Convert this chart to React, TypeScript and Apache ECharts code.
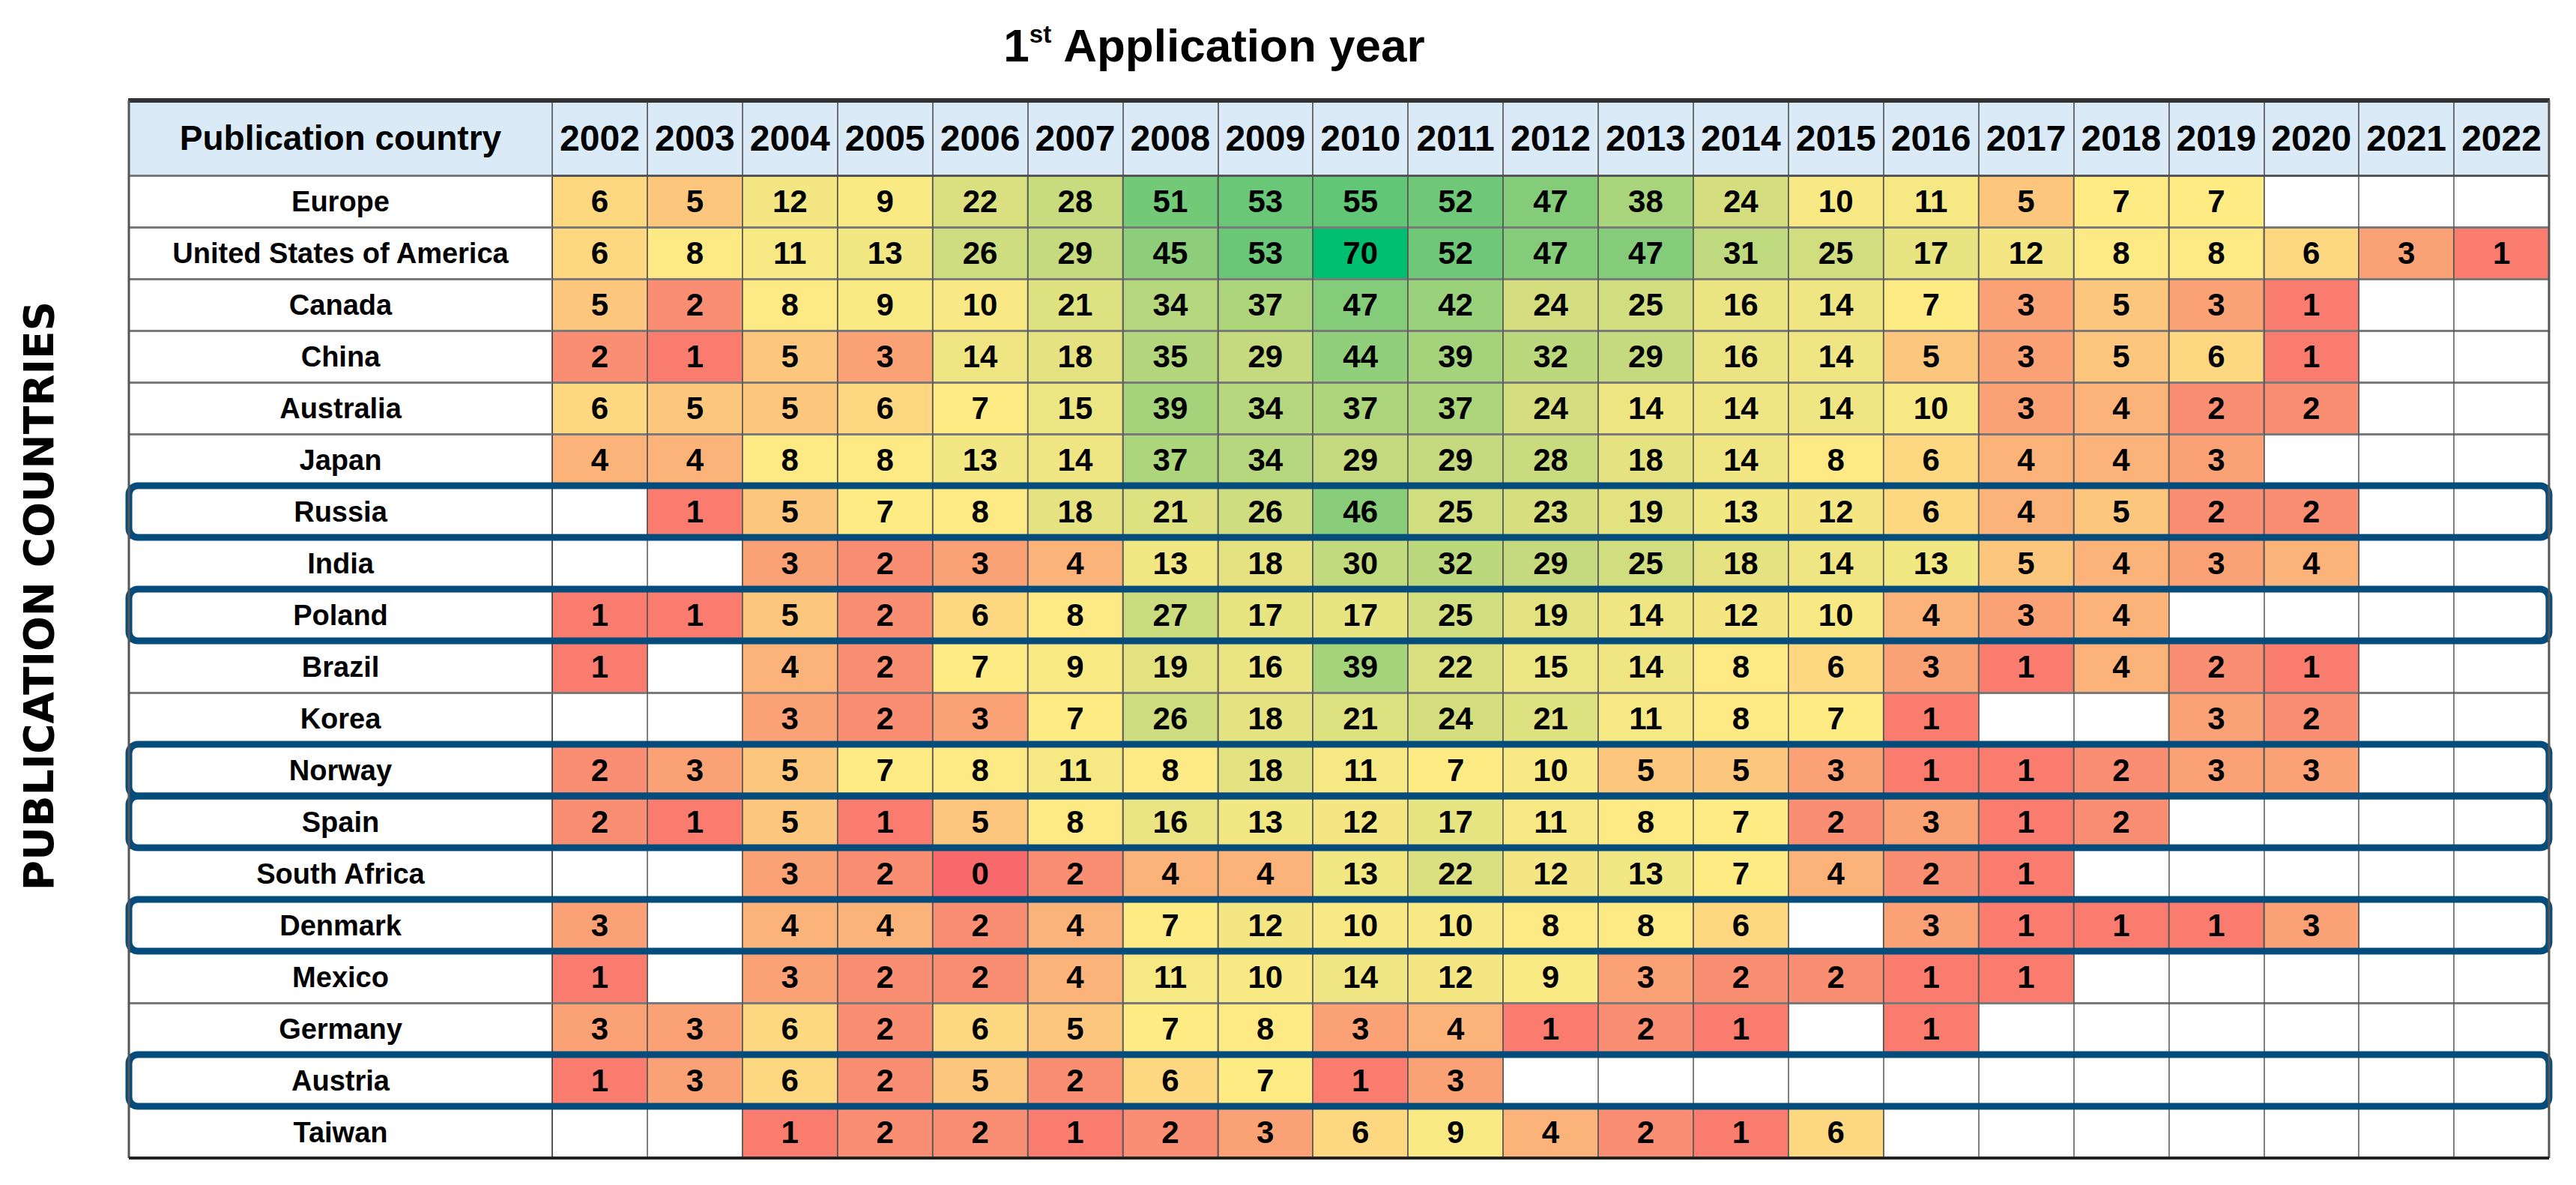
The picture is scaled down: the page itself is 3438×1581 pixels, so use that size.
import React, { useEffect, useRef } from "react";
import * as echarts from "echarts";

// ---------- data ----------
const YEARS = [
  "2002", "2003", "2004", "2005", "2006", "2007", "2008", "2009", "2010", "2011", "2012",
  "2013", "2014", "2015", "2016", "2017", "2018", "2019", "2020", "2021", "2022",
];

const COUNTRIES = [
  "Europe", "United States of America", "Canada", "China", "Australia", "Japan", "Russia",
  "India", "Poland", "Brazil", "Korea", "Norway", "Spain", "South Africa", "Denmark",
  "Mexico", "Germany", "Austria", "Taiwan",
];

const _ = null;
const EUROPE = [6, 5, 12, 9, 22, 28, 51, 53, 55, 52, 47, 38, 24, 10, 11, 5, 7, 7, _, _, _];
const USA = [6, 8, 11, 13, 26, 29, 45, 53, 70, 52, 47, 47, 31, 25, 17, 12, 8, 8, 6, 3, 1];
const CANADA = [5, 2, 8, 9, 10, 21, 34, 37, 47, 42, 24, 25, 16, 14, 7, 3, 5, 3, 1, _, _];
const CHINA = [2, 1, 5, 3, 14, 18, 35, 29, 44, 39, 32, 29, 16, 14, 5, 3, 5, 6, 1, _, _];
const AUSTRALIA = [6, 5, 5, 6, 7, 15, 39, 34, 37, 37, 24, 14, 14, 14, 10, 3, 4, 2, 2, _, _];
const JAPAN = [4, 4, 8, 8, 13, 14, 37, 34, 29, 29, 28, 18, 14, 8, 6, 4, 4, 3, _, _, _];
const RUSSIA = [_, 1, 5, 7, 8, 18, 21, 26, 46, 25, 23, 19, 13, 12, 6, 4, 5, 2, 2, _, _];
const INDIA = [_, _, 3, 2, 3, 4, 13, 18, 30, 32, 29, 25, 18, 14, 13, 5, 4, 3, 4, _, _];
const POLAND = [1, 1, 5, 2, 6, 8, 27, 17, 17, 25, 19, 14, 12, 10, 4, 3, 4, _, _, _, _];
const BRAZIL = [1, _, 4, 2, 7, 9, 19, 16, 39, 22, 15, 14, 8, 6, 3, 1, 4, 2, 1, _, _];
const KOREA = [_, _, 3, 2, 3, 7, 26, 18, 21, 24, 21, 11, 8, 7, 1, _, _, 3, 2, _, _];
const NORWAY = [2, 3, 5, 7, 8, 11, 8, 18, 11, 7, 10, 5, 5, 3, 1, 1, 2, 3, 3, _, _];
const SPAIN = [2, 1, 5, 1, 5, 8, 16, 13, 12, 17, 11, 8, 7, 2, 3, 1, 2, _, _, _, _];
const SOUTH_AFRICA = [_, _, 3, 2, 0, 2, 4, 4, 13, 22, 12, 13, 7, 4, 2, 1, _, _, _, _, _];
const DENMARK = [3, _, 4, 4, 2, 4, 7, 12, 10, 10, 8, 8, 6, _, 3, 1, 1, 1, 3, _, _];
const MEXICO = [1, _, 3, 2, 2, 4, 11, 10, 14, 12, 9, 3, 2, 2, 1, 1, _, _, _, _, _];
const GERMANY = [3, 3, 6, 2, 6, 5, 7, 8, 3, 4, 1, 2, 1, _, 1, _, _, _, _, _, _];
const AUSTRIA = [1, 3, 6, 2, 5, 2, 6, 7, 1, 3, _, _, _, _, _, _, _, _, _, _, _];
const TAIWAN = [_, _, 1, 2, 2, 1, 2, 3, 6, 9, 4, 2, 1, 6, _, _, _, _, _, _, _];

const ROWS = [
  EUROPE, USA, CANADA, CHINA, AUSTRALIA, JAPAN, RUSSIA, INDIA, POLAND, BRAZIL, KOREA,
  NORWAY, SPAIN, SOUTH_AFRICA, DENMARK, MEXICO, GERMANY, AUSTRIA, TAIWAN,
];

const HIGHLIGHTED = ["Russia", "Poland", "Norway", "Spain", "Denmark", "Austria"];

const SCALE_COLORS = [
  "#F8696B", "#FFEB84", "#EFE683", "#DDE180", "#C8DB7E", "#B3D67D",
  "#9AD17B", "#7DCA79", "#5DC577", "#31C174", "#00BF71",
];

// ---------- layout ----------
const W = 3438;
const H = 1581;
const GRID_LEFT = 737;
const GRID_RIGHT = 36;
const GRID_TOP = 234;
const GRID_BOTTOM = 36;
const LABEL_W = 565;
const HEADER_H = 100;
const FONT = "'Liberation Sans', Arial, sans-serif";

export default function App() {
  const ref = useRef<HTMLDivElement>(null);

  useEffect(() => {
    if (!ref.current) return;
    const chart = echarts.init(ref.current, undefined, { renderer: "svg" });

    const heatData: any[] = [];
    ROWS.forEach((row, yi) => {
      row.forEach((v, xi) => {
        if (v !== null) heatData.push([xi, yi, v]);
      });
    });

    const tableLeft = GRID_LEFT - LABEL_W;
    const tableRight = W - GRID_RIGHT;
    const tableTop = GRID_TOP - HEADER_H;
    const tableBottom = H - GRID_BOTTOM;

    const option: any = {
      animation: false,
      backgroundColor: "#ffffff",
      title: {
        text: "{n|1}{s|st}{n| Application year}",
        left: 1616,
        top: 24,
        textAlign: "center",
        textStyle: {
          rich: {
            n: { fontSize: 62, fontWeight: "bold", fontFamily: FONT, color: "#000" },
            s: {
              fontSize: 33,
              fontWeight: "bold",
              fontFamily: FONT,
              color: "#000",
              verticalAlign: "top",
            },
          },
        },
      },
      grid: {
        left: GRID_LEFT,
        right: GRID_RIGHT,
        top: GRID_TOP,
        bottom: GRID_BOTTOM,
        containLabel: false,
      },
      xAxis: {
        type: "category",
        data: YEARS,
        position: "top",
        z: 3,
        axisLine: { show: true, lineStyle: { color: "#555", width: 3 } },
        axisTick: {
          show: true,
          length: HEADER_H,
          lineStyle: { color: "#444", width: 1.5 },
        },
        axisLabel: {
          interval: 0,
          margin: HEADER_H / 2,
          verticalAlign: "middle",
          fontSize: 48,
          fontWeight: "bold",
          fontFamily: FONT,
          color: "#000",
        },
        splitLine: { show: true, lineStyle: { color: "#555", width: 1.5 } },
      },
      yAxis: {
        type: "category",
        data: COUNTRIES,
        inverse: true,
        z: 3,
        axisLine: { show: true, lineStyle: { color: "#555", width: 2 } },
        axisTick: {
          show: true,
          length: LABEL_W,
          lineStyle: { color: "#7a7a7a", width: 3 },
        },
        axisLabel: {
          interval: 0,
          align: "center",
          margin: LABEL_W / 2,
          fontSize: 38,
          fontWeight: "bold",
          fontFamily: FONT,
          color: "#000",
        },
        splitLine: { show: true, lineStyle: { color: "#7a7a7a", width: 3 } },
      },
      visualMap: {
        show: false,
        type: "continuous",
        min: 0,
        max: 70,
        seriesIndex: 0,
        inRange: { color: SCALE_COLORS },
      },
      series: [
        {
          type: "heatmap",
          data: heatData,
          z: 2,
          label: {
            show: true,
            fontSize: 42,
            fontWeight: "bold",
            fontFamily: FONT,
            color: "#000",
            formatter: (p: any) => String(p.value[2]),
          },
          itemStyle: { borderColor: "#555", borderWidth: 1 },
          emphasis: { disabled: true },
        },
        {
          type: "custom",
          coordinateSystem: "cartesian2d",
          silent: true,
          clip: false,
          z: 6,
          data: HIGHLIGHTED.map((n) => [0, COUNTRIES.indexOf(n)]),
          renderItem: (params: any, api: any) => {
            const row = api.value(1);
            const first = api.coord([0, row]);
            const last = api.coord([YEARS.length - 1, row]);
            const size = api.size([1, 1]);
            const x0 = first[0] - size[0] / 2 - LABEL_W;
            const x1 = last[0] + size[0] / 2;
            const y0 = first[1] - size[1] / 2;
            return {
              type: "rect",
              shape: { x: x0, y: y0, width: x1 - x0, height: size[1], r: 12 },
              style: { fill: "none", stroke: "#044C7C", lineWidth: 9 },
            };
          },
        },
      ],
      graphic: [
        {
          type: "rect",
          z: 0,
          shape: { x: tableLeft, y: tableTop, width: tableRight - tableLeft, height: HEADER_H },
          style: { fill: "#DAEAF6" },
        },
        {
          type: "line",
          z: 10,
          shape: { x1: tableLeft - 1, y1: tableTop, x2: tableRight + 1, y2: tableTop },
          style: { stroke: "#333", lineWidth: 6 },
        },
        {
          type: "line",
          z: 10,
          shape: { x1: tableLeft, y1: tableTop, x2: tableLeft, y2: tableBottom },
          style: { stroke: "#555", lineWidth: 3 },
        },
        {
          type: "line",
          z: 10,
          shape: { x1: tableRight, y1: tableTop, x2: tableRight, y2: tableBottom },
          style: { stroke: "#555", lineWidth: 3 },
        },
        {
          type: "line",
          z: 10,
          shape: { x1: tableLeft, y1: tableBottom, x2: tableRight, y2: tableBottom },
          style: { stroke: "#222", lineWidth: 4 },
        },
        {
          type: "text",
          z: 10,
          x: tableLeft + LABEL_W / 2,
          y: tableTop + HEADER_H / 2,
          style: {
            text: "Publication country",
            fontSize: 46,
            fontWeight: "bold",
            fontFamily: FONT,
            fill: "#000",
            align: "center",
            verticalAlign: "middle",
            textAlign: "center",
            textVerticalAlign: "middle",
          },
        },
        {
          type: "text",
          z: 10,
          x: 52,
          y: 795,
          rotation: Math.PI / 2,
          style: {
            text: "PUBLICATION COUNTRIES",
            fontSize: 55,
            fontWeight: "bold",
            fontFamily: "'DejaVu Sans', sans-serif",
            fill: "#000",
            align: "center",
            verticalAlign: "middle",
            textAlign: "center",
            textVerticalAlign: "middle",
          },
        },
      ],
    };

    chart.setOption(option);
    return () => chart.dispose();
  }, []);

  return (
    <div
      ref={ref}
      style={{ position: "absolute", left: 0, top: 0, width: W, height: H, background: "#fff" }}
    />
  );
}
